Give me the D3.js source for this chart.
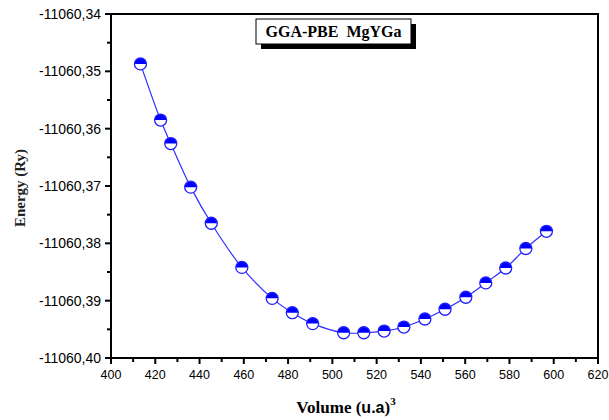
<!DOCTYPE html>
<html>
<head>
<meta charset="utf-8">
<script src="https://cdn.jsdelivr.net/npm/d3@7"></script>
<style>
  body { margin: 0; background: #fff; }
  svg { display: block; }
</style>
</head>
<body>
<div id="chart"></div>
<script>
// Volume (u.a)^3 and total energy (Ry)
const volume = [413.3, 422.4, 427.0, 436.0, 445.3, 459.1, 472.8, 481.9, 491.1, 505.1,
                514.2, 523.4, 532.3, 541.8, 550.9, 560.3, 569.3, 578.3, 587.4, 596.7];
const energy = [-11060.3487, -11060.3585, -11060.3626, -11060.3702, -11060.3765,
                -11060.3842, -11060.3896, -11060.3921, -11060.3940, -11060.3956,
                -11060.3956, -11060.3953, -11060.3946, -11060.3932, -11060.3915,
                -11060.3894, -11060.3869, -11060.3843, -11060.3809, -11060.3779];
const xTicks = [400, 420, 440, 460, 480, 500, 520, 540, 560, 580, 600, 620];
const yTicks = [-11060.34, -11060.35, -11060.36, -11060.37, -11060.38, -11060.39, -11060.40];
const title = "GGA-PBE  MgYGa";

const width = 609, height = 420;
const margin = {left: 111, right: 11, top: 14, bottom: 62};

const svg = d3.select("#chart").append("svg")
    .attr("width", width)
    .attr("height", height);

const x = d3.scaleLinear().domain([400, 620]).range([margin.left, width - margin.right]);
const y = d3.scaleLinear().domain([-11060.40, -11060.34]).range([height - margin.bottom, margin.top]);

const fmt = v => d3.format(".2f")(v).replace(".", ",").replace("−", "-");

// frame
svg.append("rect")
    .attr("x", x(400)).attr("y", y(-11060.34))
    .attr("width", x(620) - x(400)).attr("height", y(-11060.40) - y(-11060.34))
    .attr("fill", "none").attr("stroke", "#000").attr("stroke-width", 2);

// x axis
const xMinor = d3.range(410, 620, 20);
const gx = svg.append("g").attr("transform", `translate(0,${y(-11060.40)})`);
gx.selectAll("line.major").data(xTicks).enter().append("line")
    .attr("x1", d => x(d)).attr("x2", d => x(d)).attr("y1", 0).attr("y2", 6)
    .attr("stroke", "#000").attr("stroke-width", 2);
gx.selectAll("line.minor").data(xMinor).enter().append("line")
    .attr("x1", d => x(d)).attr("x2", d => x(d)).attr("y1", 0).attr("y2", 4)
    .attr("stroke", "#000").attr("stroke-width", 2);
gx.selectAll("text").data(xTicks).enter().append("text")
    .attr("x", d => x(d)).attr("y", 21)
    .attr("text-anchor", "middle")
    .style("font-family", "'Liberation Sans', Arial, sans-serif")
    .style("font-size", "12.5px")
    .text(d => d);

// y axis
const yMinor = d3.range(6).map(i => -11060.345 - i * 0.01);
const gy = svg.append("g").attr("transform", `translate(${x(400)},0)`);
gy.selectAll("line.major").data(yTicks).enter().append("line")
    .attr("x1", -6).attr("x2", 0).attr("y1", d => y(d)).attr("y2", d => y(d))
    .attr("stroke", "#000").attr("stroke-width", 2);
gy.selectAll("line.minor").data(yMinor).enter().append("line")
    .attr("x1", -4).attr("x2", 0).attr("y1", d => y(d)).attr("y2", d => y(d))
    .attr("stroke", "#000").attr("stroke-width", 2);
gy.selectAll("text").data(yTicks).enter().append("text")
    .attr("x", -10).attr("y", d => y(d) + 5)
    .attr("text-anchor", "end")
    .style("font-family", "'Liberation Sans', Arial, sans-serif")
    .style("font-size", "14px")
    .text(d => fmt(d));

// curve
const pts = volume.map((v, i) => [v, energy[i]]);
const line = d3.line()
    .x(d => x(d[0])).y(d => y(d[1]))
    .curve(d3.curveCatmullRom);
svg.append("path")
    .attr("d", line(pts))
    .attr("fill", "none")
    .attr("stroke", "#3030ff")
    .attr("stroke-width", 1.2);

// half-filled markers
const r = 6;
const topHalf = d3.arc().innerRadius(0).outerRadius(r).startAngle(-Math.PI / 2).endAngle(Math.PI / 2);
const mk = svg.append("g").selectAll("g").data(pts).enter().append("g")
    .attr("transform", d => `translate(${x(d[0])},${y(d[1])})`);
mk.append("circle").attr("r", r).attr("fill", "#fff");
mk.append("path").attr("d", topHalf()).attr("fill", "#0000ff");
mk.append("circle").attr("r", r).attr("fill", "none").attr("stroke", "#2020ff").attr("stroke-width", 1.3);

// title box with shadow
const bx = 256, by = 19, bw = 155, bh = 25;
svg.append("rect").attr("x", bx + 5).attr("y", by + 5).attr("width", bw).attr("height", bh).attr("fill", "#000");
svg.append("rect").attr("x", bx).attr("y", by).attr("width", bw).attr("height", bh)
    .attr("fill", "#fff").attr("stroke", "#000").attr("stroke-width", 1);
svg.append("text")
    .attr("x", bx + bw / 2).attr("y", by + 18)
    .attr("text-anchor", "middle")
    .style("font-family", "'Liberation Serif', 'Times New Roman', serif")
    .style("font-weight", "bold")
    .style("font-size", "16px")
    .style("white-space", "pre")
    .attr("xml:space", "preserve")
    .text(title);

// axis titles
svg.append("text")
    .attr("transform", `translate(25,188) rotate(-90)`)
    .attr("text-anchor", "middle")
    .style("font-family", "'Liberation Serif', 'Times New Roman', serif")
    .style("font-weight", "bold")
    .style("font-size", "15px")
    .style("fill", "#222")
    .text("Energy (Ry)");

const xt = svg.append("text")
    .attr("x", 346).attr("y", 413)
    .attr("text-anchor", "middle")
    .style("font-weight", "bold")
    .style("font-size", "17px");
xt.append("tspan").style("font-family", "'Liberation Serif', serif").text("Volume (");
xt.append("tspan").style("font-family", "'Liberation Sans', sans-serif").style("font-size", "16px").text("u.a");
xt.append("tspan").style("font-family", "'Liberation Serif', serif").text(")");
xt.append("tspan").style("font-family", "'Liberation Serif', serif").style("font-size", "11px")
    .attr("dy", -8).text("3");
</script>
</body>
</html>
